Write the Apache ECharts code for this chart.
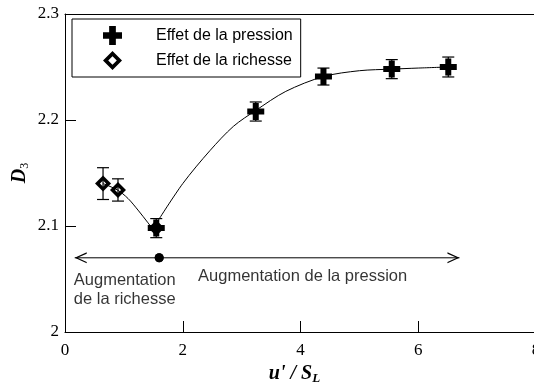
<!DOCTYPE html>
<html><head><meta charset="utf-8">
<script src="https://cdn.jsdelivr.net/npm/echarts@6/dist/echarts.min.js"></script>
<style>html,body{margin:0;padding:0;background:#fff}#c{width:534px;height:383px}</style>
</head><body><div id="c"></div>
<script>
// Data
const pressionX = [1.55, 3.24, 4.39, 5.55, 6.51];
const pressionY = [2.098, 2.208, 2.241, 2.248, 2.250];
const pressionErr = [0.009, 0.009, 0.008, 0.009, 0.0094];
const richesseX = [0.646, 0.90, 1.55];
const richesseY = [2.140, 2.134, 2.098];
const richesseErr = [0.015, 0.0105, 0.0];
// fitted curves
const fitPX = [1.58, 2.0, 2.46, 2.86, 3.24, 3.75, 4.39, 5.0, 5.55, 6.0, 6.51];
const fitPY = [2.105, 2.140, 2.171, 2.194, 2.209, 2.227, 2.241, 2.2465, 2.248, 2.249, 2.250];
const fitRX = [0.646, 0.89, 1.07, 1.24, 1.41, 1.52];
const fitRY = [2.140, 2.134, 2.126, 2.115, 2.103, 2.095];
const arrowY = 2.07;
const arrowStartX = 1.6;
const arrowLeftX = 0.165;
const arrowRightX = 6.70;
const noteRichesse = {x: 0.15, y: 2.057, text: 'Augmentation\nde la richesse'};
const notePression = {x: 2.26, y: 2.0612, text: 'Augmentation de la pression'};

const crossPath = 'path://M5.5,0H11.5V5.5H17V11.5H11.5V17H5.5V11.5H0V5.5H5.5Z';
const diamondHollow = 'path://M10,0L20,10L10,20L0,10Z M10,5.5L5.5,10L10,14.5L14.5,10Z';
const diamondData = 'path://M10,0L20,10L10,20L0,10Z M10,6.2L6.2,10L10,13.8L13.8,10Z';
const rightArrow = 'path://M0,0L12,5.5L0,11L0,9.6L9.2,5.5L0,1.4Z';
const leftArrow = 'path://M12,0L0,5.5L12,11L12,9.6L2.8,5.5L12,1.4Z';

const zip = (a, b) => a.map((v, i) => [v, b[i]]);
const errData = (xs, ys, es) => xs.map((x, i) => [x, ys[i] - es[i], ys[i] + es[i]]).filter(d => d[2] > d[1]);

const serifAxis = {fontFamily: 'Liberation Serif', fontSize: 17, color: '#000'};

function errorRender(params, api) {
  const x = api.value(0);
  const lo = api.coord([x, api.value(1)]);
  const hi = api.coord([x, api.value(2)]);
  const hw = 6;
  const st = {stroke: '#000', lineWidth: 1.2};
  return {type: 'group', children: [
    {type: 'line', shape: {x1: lo[0], y1: lo[1], x2: hi[0], y2: hi[1]}, style: st},
    {type: 'line', shape: {x1: lo[0] - hw, y1: lo[1], x2: lo[0] + hw, y2: lo[1]}, style: st},
    {type: 'line', shape: {x1: hi[0] - hw, y1: hi[1], x2: hi[0] + hw, y2: hi[1]}, style: st}
  ]};
}

const chart = echarts.init(document.getElementById('c'), null, {renderer: 'canvas'});
chart.setOption({
  animation: false,
  backgroundColor: '#fff',
  grid: {left: 65, right: -2, top: 14, bottom: 51, outerBoundsMode: 'none', containLabel: false},
  legend: {
    data: [{name: 'Effet de la pression', icon: crossPath}, {name: 'Effet de la richesse', icon: diamondHollow}],
    orient: 'vertical', left: 72, top: 19,
    padding: [7, 8, 7, 31], itemGap: 6, itemWidth: 19, itemHeight: 19,
    borderColor: '#000', borderWidth: 1,
    itemStyle: {color: '#000', borderWidth: 0},
    textStyle: {fontFamily: 'Liberation Sans', fontSize: 16, color: '#000', padding: [0, 0, 0, 29]}
  },
  xAxis: [{
    type: 'value', min: 0, max: 8, interval: 2,
    name: '{b|u\' / S}{s|L}', nameLocation: 'middle', nameGap: 25,
    nameTextStyle: {rich: {
      b: {fontFamily: 'Liberation Serif', fontWeight: 'bold', fontStyle: 'italic', fontSize: 20, color: '#000', lineHeight: 22},
      s: {fontFamily: 'Liberation Serif', fontWeight: 'bold', fontStyle: 'italic', fontSize: 13, color: '#000', verticalAlign: 'bottom', padding: [8, 0, 0, 0]}
    }, padding: [0, 12, 0, 0]},
    axisLine: {lineStyle: {color: '#000', width: 1}},
    axisTick: {inside: true, length: 11, lineStyle: {color: '#000'}},
    axisLabel: Object.assign({margin: 10}, serifAxis),
    splitLine: {show: false}
  }, {
    type: 'value', min: 0, max: 8, position: 'top',
    axisLine: {show: true, lineStyle: {color: '#000', width: 1}},
    axisTick: {show: false}, axisLabel: {show: false}, splitLine: {show: false}
  }],
  yAxis: {
    type: 'value', min: 2, max: 2.3, interval: 0.1,
    name: '{b|D}{s|3}', nameLocation: 'middle', nameGap: 34, nameRotate: 90, nameMoveOverlap: false,
    nameTextStyle: {rich: {
      b: {fontFamily: 'Liberation Serif', fontWeight: 'bold', fontStyle: 'italic', fontSize: 20, color: '#000', lineHeight: 22},
      s: {fontFamily: 'Liberation Serif', fontSize: 12, color: '#000', verticalAlign: 'bottom', padding: [8, 0, 0, 0]}
    }},
    axisLine: {show: true, lineStyle: {color: '#000', width: 1}},
    axisTick: {inside: true, length: 11, lineStyle: {color: '#000'}},
    axisLabel: Object.assign({margin: 6, formatter: v => String(+v.toFixed(1))}, serifAxis),
    splitLine: {show: false}
  },
  series: [
    {name: 'fitR', type: 'line', data: zip(fitRX, fitRY), smooth: 0.3, showSymbol: false,
     lineStyle: {color: '#000', width: 1}, z: 1, silent: true},
    {name: 'fitP', type: 'line', data: zip(fitPX, fitPY), smooth: 0.3, showSymbol: false,
     lineStyle: {color: '#000', width: 1}, z: 1, silent: true},
    {name: 'errR', type: 'custom', renderItem: errorRender, data: errData(richesseX, richesseY, richesseErr), z: 2},
    {name: 'errP', type: 'custom', renderItem: errorRender, data: errData(pressionX, pressionY, pressionErr), z: 2},
    {name: 'Effet de la richesse', type: 'scatter', data: zip(richesseX, richesseY), symbol: diamondData, symbolSize: 16,
     itemStyle: {color: '#000', opacity: 1}, z: 3},
    {name: 'Effet de la pression', type: 'scatter', data: zip(pressionX, pressionY), symbol: crossPath, symbolSize: 17,
     itemStyle: {color: '#000', opacity: 1}, z: 4},
    {name: 'arrowL', type: 'line', data: [
       {value: [arrowLeftX, arrowY], symbol: leftArrow, symbolSize: [12, 11], symbolOffset: [6, 0]},
       {value: [arrowStartX, arrowY], symbol: 'circle', symbolSize: 9}],
     showSymbol: true, lineStyle: {color: '#000', width: 1}, itemStyle: {color: '#000'}, z: 3},
    {name: 'arrowR', type: 'line', data: [
       {value: [arrowStartX, arrowY], symbol: 'circle', symbolSize: 9},
       {value: [arrowRightX, arrowY], symbol: rightArrow, symbolSize: [12, 11], symbolOffset: [-6, 0]}],
     showSymbol: true, lineStyle: {color: '#000', width: 1}, itemStyle: {color: '#000'}, z: 3},
    {name: 'notes', type: 'scatter', symbolSize: 0, silent: true,
     data: [noteRichesse, notePression].map(n => ({value: [n.x, n.y], label: {formatter: n.text}})),
     label: {show: true, position: [0, 0], align: 'left', verticalAlign: 'top',
             fontFamily: 'Liberation Sans', fontSize: 16.5, lineHeight: 18.5, color: '#000'}}
  ]
});
</script></body></html>
